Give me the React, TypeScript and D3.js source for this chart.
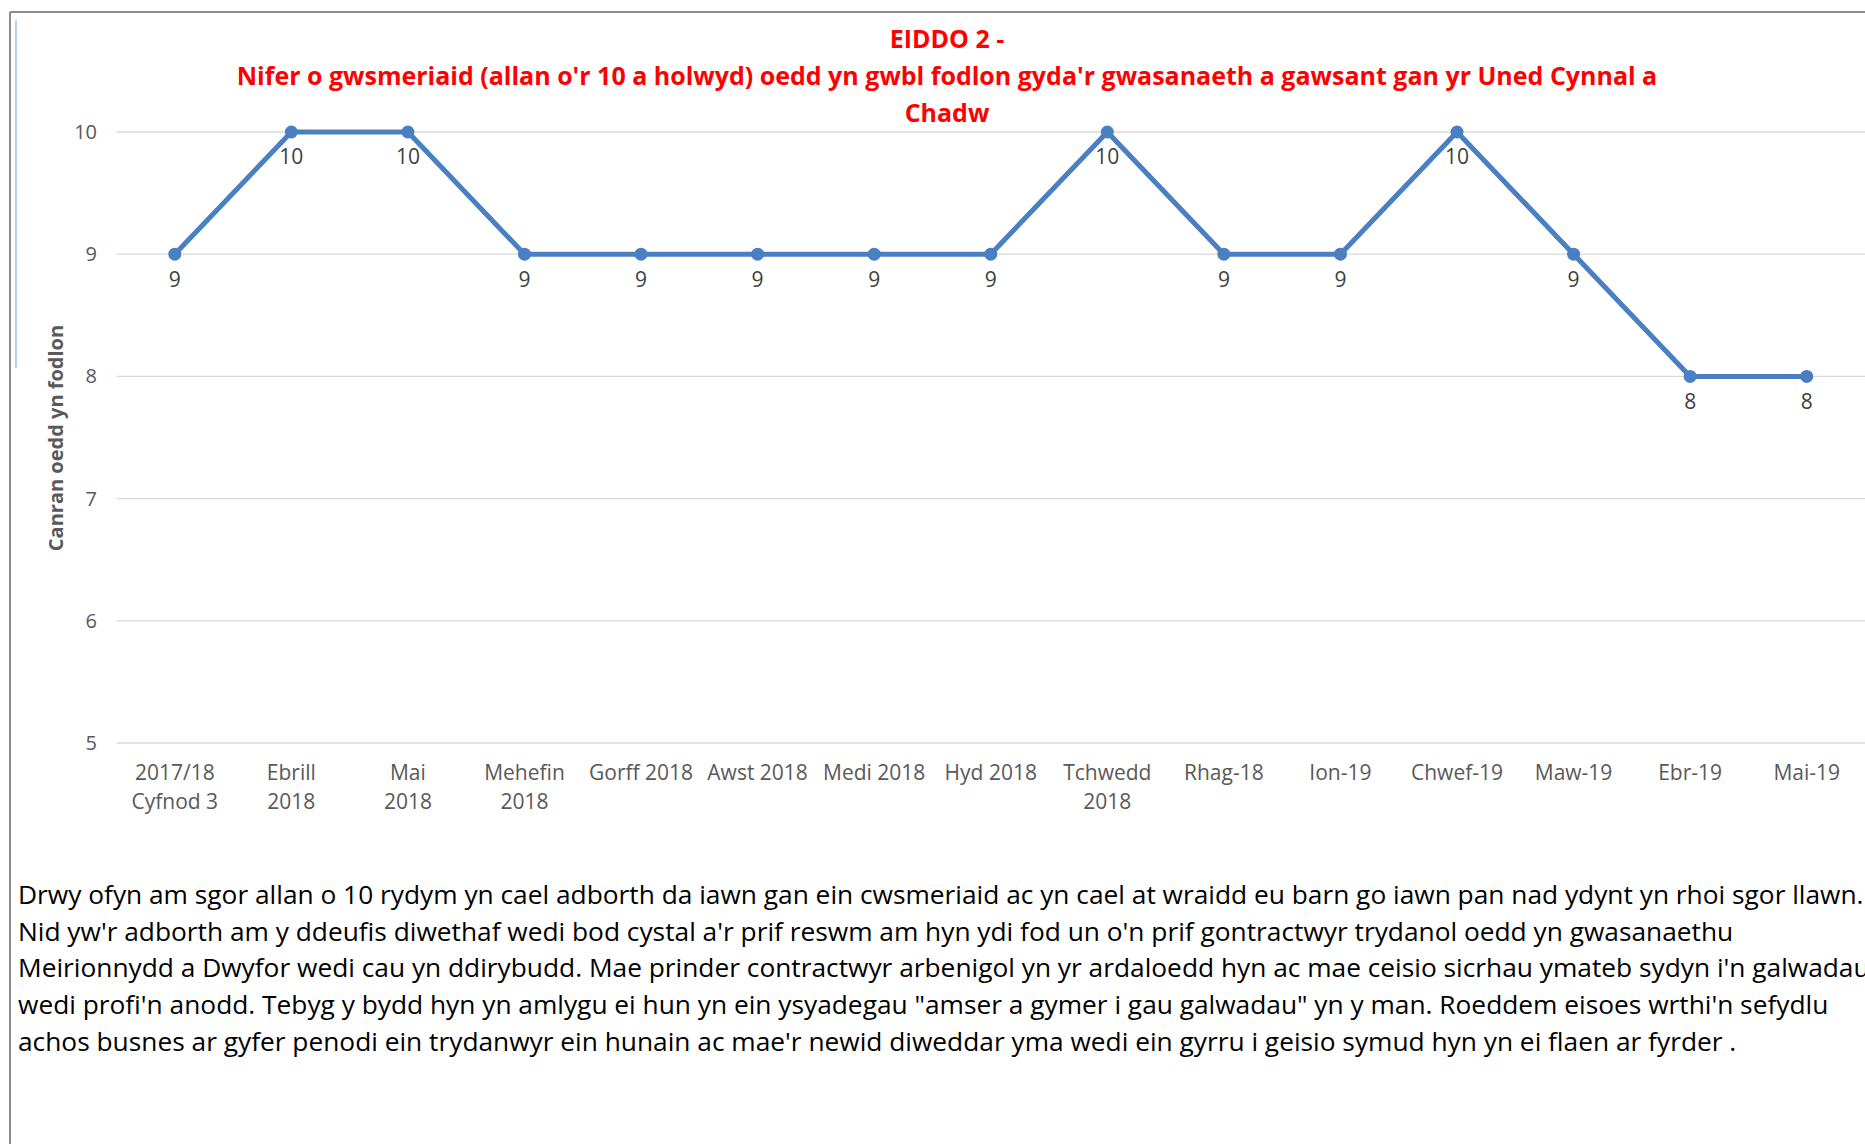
import React from 'react'
import * as d3 from 'd3'

// chart data
const months = [
  ['2017/18', 'Cyfnod 3'],
  ['Ebrill', '2018'],
  ['Mai', '2018'],
  ['Mehefin', '2018'],
  ['Gorff 2018'],
  ['Awst 2018'],
  ['Medi 2018'],
  ['Hyd 2018'],
  ['Tchwedd', '2018'],
  ['Rhag-18'],
  ['Ion-19'],
  ['Chwef-19'],
  ['Maw-19'],
  ['Ebr-19'],
  ['Mai-19'],
]
const scores = [9, 10, 10, 9, 9, 9, 9, 9, 10, 9, 9, 10, 9, 8, 8]
const yTicks = [5, 6, 7, 8, 9, 10]

const titleLines = [
  'EIDDO 2 -',
  "Nifer o gwsmeriaid (allan o'r 10 a holwyd) oedd yn gwbl fodlon gyda'r gwasanaeth a gawsant gan yr Uned Cynnal a",
  'Chadw',
]
const yTitle = 'Canran oedd yn fodlon'

const notes = [
  'Drwy ofyn am sgor allan o 10 rydym yn cael adborth da iawn gan ein cwsmeriaid ac yn cael at wraidd eu barn go iawn pan nad ydynt yn rhoi sgor llawn.',
  "Nid yw'r adborth am y ddeufis diwethaf wedi bod cystal a'r prif reswm am hyn ydi fod un o'n prif gontractwyr trydanol oedd yn gwasanaethu",
  "Meirionnydd a Dwyfor wedi cau yn ddirybudd. Mae prinder contractwyr arbenigol yn yr ardaloedd hyn ac mae ceisio sicrhau ymateb sydyn i'n galwadau",
  "wedi profi'n anodd. Tebyg y bydd hyn yn amlygu ei hun yn ein ysyadegau \"amser a gymer i gau galwadau\" yn y man. Roeddem eisoes wrthi'n sefydlu",
  "achos busnes ar gyfer penodi ein trydanwyr ein hunain ac mae'r newid diweddar yma wedi ein gyrru i geisio symud hyn yn ei flaen ar fyrder .",
]

const W = 1865
const H = 1144
const font = "'Open Sans', sans-serif"
const blue = '#4a7fc1'
const grey = '#595959'

export default function App() {
  const keys = months.map((m, i) => String(i))
  const x = d3.scalePoint().domain(keys).range([116.5, 1865]).padding(0.5)
  const y = d3.scaleLinear().domain([5, 10]).range([743, 132])

  const line = d3.line<number>()
    .x((d, i) => x(String(i)) as number)
    .y(d => y(d))

  return (
    <svg width={W} height={H} style={{ position: 'absolute', left: 0, top: 0, background: '#fff' }} fontFamily={font}>
      {/* frame */}
      <line x1={10} y1={12} x2={10} y2={H} stroke="#8c8c8c" strokeWidth={2} />
      <line x1={10} y1={12} x2={W} y2={12} stroke="#8c8c8c" strokeWidth={2} />
      <line x1={16} y1={20} x2={16} y2={368} stroke="#a9c2e3" strokeWidth={1.5} />

      {/* title */}
      {titleLines.map((t, i) => (
        <text key={t} x={947} y={48 + i * 37} textAnchor="middle" fill="#ff0000" fontWeight="bold" fontSize={25}>
          {t}
        </text>
      ))}

      {/* grid + y ticks */}
      {yTicks.map(t => (
        <g key={t}>
          <line x1={116.5} x2={W} y1={y(t)} y2={y(t)} stroke="#d9d9d9" strokeWidth={1.3} />
          <text x={97} y={y(t)} dy="0.35em" textAnchor="end" fill={grey} fontSize={20}>{t}</text>
        </g>
      ))}

      <text transform={`translate(56,${438}) rotate(-90)`} textAnchor="middle" dy="0.35em" fill={grey} fontWeight="bold" fontSize={20}>
        {yTitle}
      </text>

      {/* x labels */}
      {months.map((m, i) => (
        <text key={i} x={x(String(i))} y={780} textAnchor="middle" fill={grey} fontSize={21}>
          {m.map((s, j) => (
            <tspan key={j} x={x(String(i))} dy={j === 0 ? 0 : 29}>{s}</tspan>
          ))}
        </text>
      ))}

      {/* series */}
      <path d={line(scores) || ''} fill="none" stroke={blue} strokeWidth={5} strokeLinejoin="round" />
      {scores.map((v, i) => (
        <g key={i}>
          <circle cx={x(String(i))} cy={y(v)} r={6.5} fill={blue} />
          <text x={x(String(i))} y={y(v) + 25} dy="0.35em" textAnchor="middle" fill="#404040" fontSize={21}>{v}</text>
        </g>
      ))}

      {/* commentary */}
      {notes.map((n, i) => (
        <text key={i} x={18} y={904 + i * 36.7} fill="#000" fontSize={26.3}>{n}</text>
      ))}
    </svg>
  )
}
